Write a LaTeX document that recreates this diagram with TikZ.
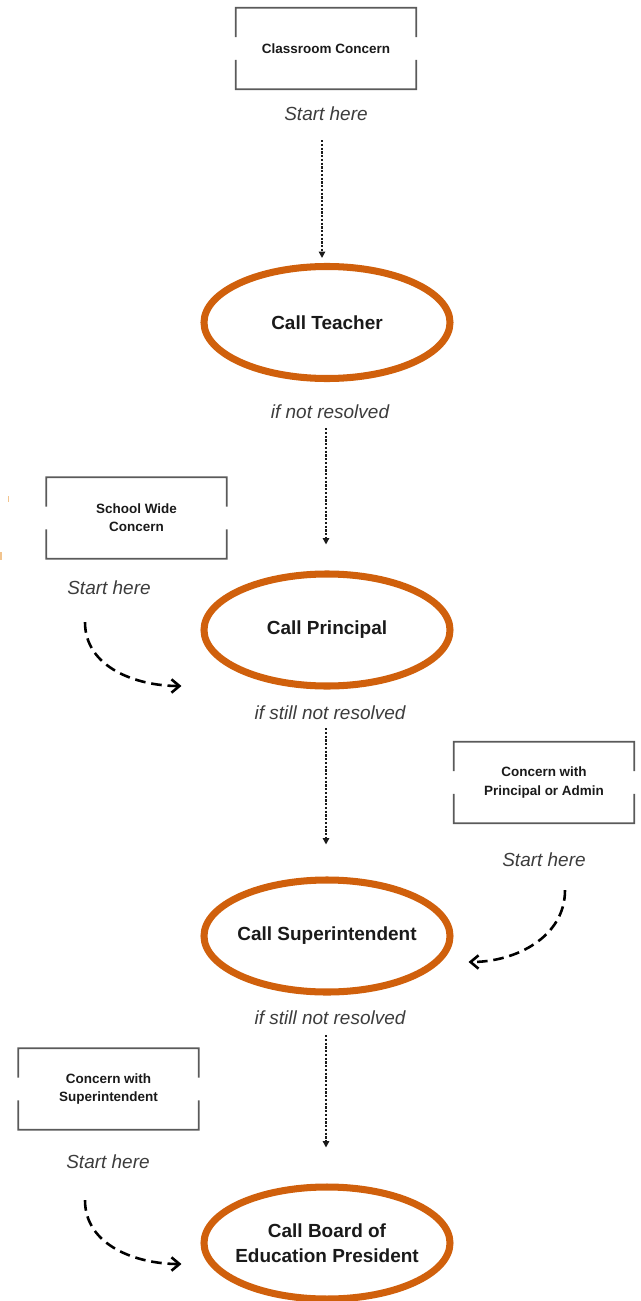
\documentclass[tikz,border=0pt]{standalone}
\usepackage{fontspec}
\setmainfont{Liberation Sans}
\usetikzlibrary{arrows.meta,shapes.geometric,calc}
\definecolor{callline}{HTML}{D0600C}
\definecolor{ink}{HTML}{1A1A1A}
\definecolor{frameline}{HTML}{5A5A5A}
\definecolor{speck}{HTML}{F2C48E}
\newcommand{\gapframe}[1]{%
  \draw[boxline] ($(#1.north west)!0.36!(#1.south west)$) |- (#1.north east) -- ($(#1.north east)!0.36!(#1.south east)$);
  \draw[boxline] ($(#1.south west)!0.36!(#1.north west)$) |- (#1.south east) -- ($(#1.south east)!0.36!(#1.north east)$);}

\begin{document}
\begin{tikzpicture}[
  x=0.03cm, y=0.03cm,
  call/.style={ellipse, draw=callline, line width=6pt, minimum width=7.38cm, minimum height=3.36cm, inner xsep=-1cm, inner ysep=0pt, align=center, text=ink, font=\fontsize{16.2}{21}\selectfont\bfseries},
  concern/.style={minimum width=5.4cm, minimum height=2.43cm, inner sep=0pt, align=center, text=ink, font=\fontsize{11.5}{15.5}\selectfont\bfseries},
  boxline/.style={draw=frameline, line width=1.5pt},
  note/.style={inner sep=0pt, text=ink!85, font=\fontsize{16.2}{19.5}\selectfont\itshape},
  down/.style={-{Triangle[length=1.9mm, width=1.9mm]}, draw=ink, line width=1.2pt, dash pattern=on 1.8pt off 1.4pt},
  jump/.style={-{Straight Barb[length=2.4mm, width=4mm]}, draw=black, line width=2.2pt, dash pattern=on 9pt off 5pt}
]
  \useasboundingbox (0,0) rectangle (640,-1301);

  \node[concern] (cls)       at (326,-48.5)  {Classroom Concern};
  \node[note]    (start1)    at (326,-114)   {Start here};
  \node[call]    (teacher)   at (327,-322.5) {Call Teacher};
  \node[note]    (res1)      at (330,-412)   {if not resolved};
  \node[concern] (swc)       at (136.5,-518) {School Wide\\Concern};
  \node[note]    (start2)    at (109,-588)   {Start here};
  \node[call]    (principal) at (327,-630)   {Call Principal};
  \node[note]    (res2)      at (330,-713)   {if still not resolved};
  \node[concern] (adm)       at (544,-782.5) {Concern with\\Principal or Admin};
  \node[note]    (start3)    at (544,-860)   {Start here};
  \node[call]    (super)     at (327,-936)   {Call Superintendent};
  \node[note]    (res3)      at (330,-1018)  {if still not resolved};
  \node[concern] (supc)      at (108.5,-1089) {Concern with\\Superintendent};
  \node[note]    (start4)    at (108,-1162)  {Start here};
  \node[call]    (board)     at (327,-1243)  {Call Board of\\Education President};

  \gapframe{cls}
  \gapframe{swc}
  \gapframe{adm}
  \gapframe{supc}

  \draw[down, shorten <=0.57cm, shorten >=0.15cm] ([xshift=-0.12cm]start1.south) -- ([xshift=-0.15cm]teacher.north);
  \draw[down, shorten <=0.27cm, shorten >=0.78cm] ([xshift=-0.12cm]res1.south) -- ([xshift=-0.03cm]principal.north);
  \draw[down, shorten <=0.24cm, shorten >=0.96cm] ([xshift=-0.12cm]res2.south) -- ([xshift=-0.03cm]super.north);
  \draw[down, shorten <=0.3cm, shorten >=1.08cm] ([xshift=-0.12cm]res3.south) -- ([xshift=-0.03cm]board.north);

  \draw[jump] ([xshift=-0.72cm,yshift=-0.81cm]start2.south) to[out=-90, in=180] ([xshift=-0.57cm,yshift=-1.68cm]principal.west);
  \draw[jump] ([xshift=0.63cm,yshift=-0.69cm]start3.south) to[out=-90, in=0] ([xshift=0.45cm,yshift=-0.78cm]super.east);
  \draw[jump] ([xshift=-0.69cm,yshift=-0.93cm]start4.south) to[out=-90, in=180] ([xshift=-0.57cm,yshift=-0.63cm]board.west);

  \draw[speck, line width=1pt] (8.3,-496) -- (8.3,-502);
  \draw[speck, line width=1.5pt] (1,-552) -- (1,-560);
\end{tikzpicture}
\end{document}
